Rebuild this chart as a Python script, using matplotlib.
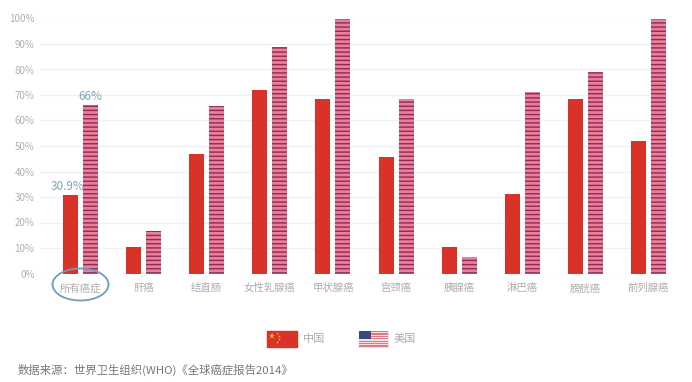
import matplotlib
matplotlib.use('Agg')
import matplotlib.pyplot as plt
from matplotlib.patches import Ellipse, Rectangle

plt.rcParams['font.family'] = ['Noto Sans CJK SC', 'DejaVu Sans']
plt.rcParams['hatch.linewidth'] = 1.0

categories = ['所有癌症', '肝癌', '结直肠', '女性乳腺癌', '甲状腺癌', '宫颈癌', '胰腺癌', '淋巴癌', '膀胱癌', '前列腺癌']
china = [30.9, 10.5, 47, 72, 68.5, 45.5, 10.5, 31, 68.5, 52]
usa = [66, 16.5, 65.5, 89, 100, 68.5, 6.5, 71, 79, 100]
yticks = list(range(0, 101, 10))
source = '数据来源：世界卫生组织(WHO)《全球癌症报告2014》'

W, H = 692, 382
fig = plt.figure(figsize=(W / 100, H / 100), dpi=100, facecolor='white')
L, R, T, B = 40, 668, 18.5, 273.5
ax = fig.add_axes([L / W, 1 - B / H, (R - L) / W, (B - T) / H])
step = 63.11
ax.set_xlim((L - 80.5) / step, (R - 80.5) / step)
ax.set_ylim(0, 100)
off, bw = 10 / step, 15 / step
xs = list(range(len(categories)))
ax.bar([x - off for x in xs], china, bw, color='#d93228', zorder=3)
ax.bar([x + off for x in xs], usa, bw, color='#ea7f9c', edgecolor='#8f2a50', hatch='----', linewidth=0, zorder=3)
ax.set_yticks(yticks)
ax.set_yticklabels([f'{v}%' for v in yticks], fontsize=7, color='#b0b0b0')
ax.set_xticks(xs)
ax.set_xticklabels(categories, fontsize=7.5, color='#adadad')
ax.tick_params(length=0)
ax.tick_params(axis='x', pad=7)
ax.tick_params(axis='y', pad=4)
ax.grid(axis='y', color='#f1f1f1', lw=1, zorder=0)
for s in ax.spines.values():
    s.set_visible(False)

ov = fig.add_axes([0, 0, 1, 1], facecolor='none')
ov.set_xlim(0, W)
ov.set_ylim(H, 0)
ov.axis('off')
ov.text(90, 97, f'{usa[0]:g}%', color='#7ba6bd', fontsize=8.5, ha='center', va='center')
ov.text(68, 186, f'{china[0]}%', color='#7ba6bd', fontsize=8.5, ha='center', va='center')
ov.add_patch(Ellipse((80.5, 284.5), 56, 32, fill=False, ec='#6d9cc0', lw=1.3))

ov.add_patch(Rectangle((267, 331), 30, 16, color='#d93228'))
ov.plot([272], [336], marker='*', ms=5, color='#f4c430', mew=0)
for px, py in [(277, 333), (279, 336), (279, 339), (277, 342)]:
    ov.plot([px], [py], marker='*', ms=2, color='#f4c430', mew=0)
ov.add_patch(Rectangle((359, 331), 29, 16, color='#f6dfe2'))
for i in range(0, 7):
    ov.add_patch(Rectangle((359, 331 + i * 2.4), 29, 1.2, color='#d77a8c', lw=0))
ov.add_patch(Rectangle((359, 331), 12, 8, color='#3b4a80', lw=0))
ov.text(303, 339, '中国', fontsize=8, color='#adadad', va='center')
ov.text(394, 339, '美国', fontsize=8, color='#adadad', va='center')
ov.text(18, 370, source, fontsize=8.2, color='#777777', va='center')

fig.savefig('out.png', dpi=100)
